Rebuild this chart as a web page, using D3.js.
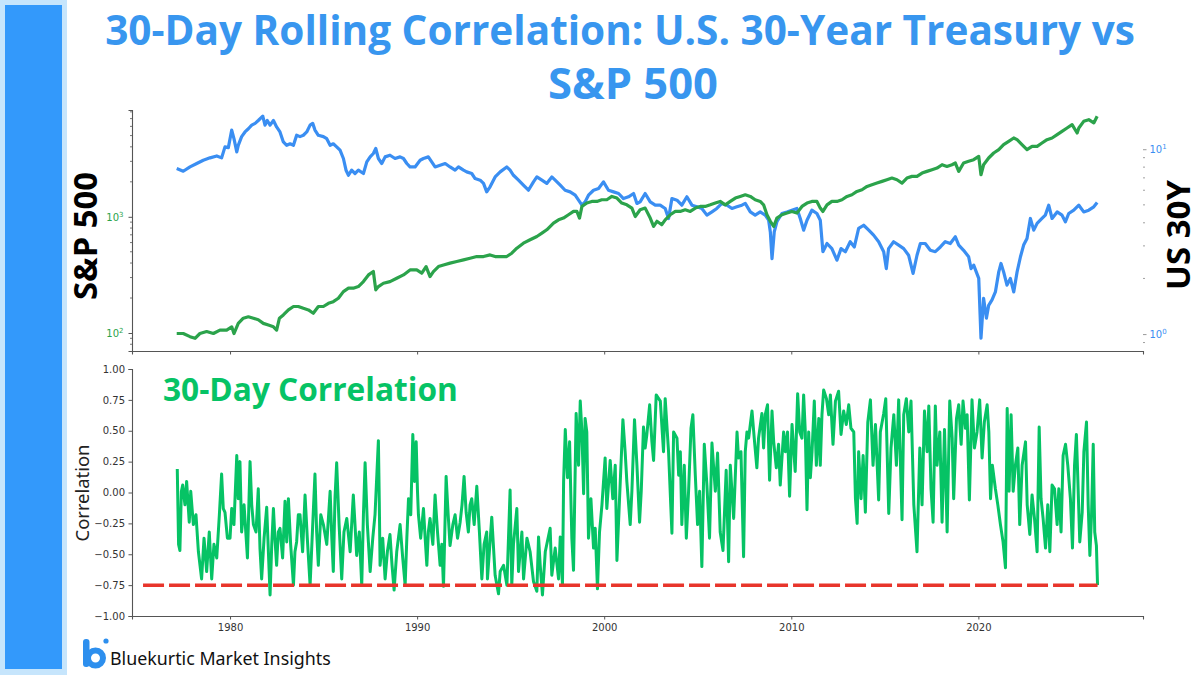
<!DOCTYPE html>
<html>
<head>
<meta charset="utf-8">
<script src="https://cdn.jsdelivr.net/npm/d3@7"></script>
<style>
  body { margin: 0; background: #fff; }
</style>
</head>
<body>
<div id="container"></div>
<script>
// ---- data ----
const yearTicks = [1980, 1990, 2000, 2010, 2020];
const corrTicks = [-1, -0.75, -0.5, -0.25, 0, 0.25, 0.5, 0.75, 1];
const spxMajorTicks = [100, 1000];
const spxMinorTicks = [80, 90, 200, 300, 400, 500, 600, 700, 800, 900, 2000, 3000, 4000, 5000, 6000, 7000, 8000];
const yieldMajorTicks = [1, 10];
const yieldMinorTicks = [0.9, 2, 3, 4, 5, 6, 7, 8, 9];
const corrThreshold = -0.75;
const thresholdSpan = [1975.35, 2026.37];

// S&P 500 level, [decimal year, index]
const spx = [[1977.15,99],[1977.50,99],[1977.86,93],[1978.13,90],[1978.39,99],[1978.75,103],[1979.11,99],[1979.46,106],[1979.82,106],[1980.09,113],[1980.21,99],[1980.44,121],[1980.71,134],[1980.98,138],[1981.25,134],[1981.51,130],[1981.78,121],[1982.05,117],[1982.32,113],[1982.49,106],[1982.64,134],[1982.85,143],[1983.12,158],[1983.39,169],[1983.65,169],[1983.92,163],[1984.19,158],[1984.45,148],[1984.72,169],[1984.99,169],[1985.26,180],[1985.52,186],[1985.79,199],[1986.06,227],[1986.33,243],[1986.59,243],[1986.86,251],[1987.13,277],[1987.40,316],[1987.66,338],[1987.79,235],[1987.93,251],[1988.20,268],[1988.55,277],[1988.91,296],[1989.27,316],[1989.62,349],[1989.98,349],[1990.25,327],[1990.48,373],[1990.69,306],[1990.87,338],[1991.14,373],[1991.41,385],[1991.76,399],[1992.12,412],[1992.48,426],[1992.83,440],[1993.19,455],[1993.55,455],[1993.90,470],[1994.17,455],[1994.44,455],[1994.79,455],[1995.06,486],[1995.33,537],[1995.68,593],[1996.04,634],[1996.40,677],[1996.67,723],[1996.93,773],[1997.29,882],[1997.56,942],[1997.82,975],[1998.09,1041],[1998.36,1112],[1998.54,1112],[1998.68,975],[1998.81,1228],[1999.07,1313],[1999.34,1356],[1999.61,1356],[1999.87,1402],[2000.14,1402],[2000.41,1497],[2000.68,1449],[2000.94,1313],[2001.21,1268],[2001.48,1188],[2001.66,1006],[2001.92,1149],
  [2002.19,1188],[2002.46,975],[2002.64,826],[2002.82,915],[2003.08,855],[2003.26,942],[2003.53,1041],[2003.80,1112],[2004.06,1112],[2004.33,1149],[2004.60,1112],[2004.87,1188],[2005.13,1228],[2005.40,1228],[2005.67,1268],[2005.94,1313],[2006.20,1356],[2006.47,1268],[2006.74,1356],[2007.01,1449],[2007.27,1497],[2007.54,1548],[2007.81,1497],[2008.07,1402],[2008.34,1356],[2008.52,1268],[2008.70,1041],[2008.88,915],[2009.06,826],[2009.23,975],[2009.50,1041],[2009.77,1076],[2010.03,1112],[2010.30,1076],[2010.57,1228],[2010.84,1313],[2011.10,1356],[2011.37,1356],[2011.55,1188],[2011.69,1112],[2011.91,1268],[2012.17,1356],[2012.44,1356],[2012.71,1402],[2012.98,1497],[2013.24,1548],[2013.51,1653],[2013.78,1709],[2014.05,1825],[2014.31,1888],[2014.58,1951],[2014.85,2017],[2015.11,2085],[2015.38,2155],[2015.65,2085],[2015.92,1951],[2016.18,2155],[2016.45,2227],[2016.72,2227],[2016.99,2378],[2017.25,2460],[2017.52,2543],[2017.79,2628],[2018.06,2806],[2018.32,2714],[2018.59,2806],[2018.77,2902],[2018.95,2460],[2019.21,2902],[2019.48,3000],[2019.75,3100],[2020.02,3311],[2020.14,2301],[2020.28,2806],[2020.55,3206],[2020.82,3540],[2021.09,3783],[2021.35,4180],[2021.62,4461],[2021.89,4767],[2022.07,4612],[2022.33,4180],[2022.60,3783],[2022.87,4039],[2023.14,4039],[2023.40,4315],[2023.67,4612],[2023.94,4767],[2024.21,5093],[2024.47,5437],[2024.74,5811],[2025.01,6206],[2025.28,5263],[2025.37,5811],[2025.63,6631],[2025.90,6855],[2026.17,6424],[2026.35,7325]];

// US 30Y yield in %, [decimal year, yield]
const us30y = [[1977.15,7.86],[1977.50,7.60],[1977.86,8.02],[1978.22,8.37],[1978.57,8.72],[1978.93,8.98],[1979.29,9.20],[1979.55,8.98],[1979.73,10.3],[1979.91,10.2],[1980.09,12.7],[1980.21,11.4],[1980.36,9.67],[1980.44,10.5],[1980.62,11.7],[1980.80,12.4],[1980.98,12.9],[1981.16,13.5],[1981.34,13.8],[1981.51,14.3],[1981.75,15.1],[1981.87,13.5],[1981.99,14.3],[1982.14,13.5],[1982.32,14.3],[1982.49,13.2],[1982.67,12.4],[1982.85,10.95],[1983.03,10.5],[1983.21,10.7],[1983.39,10.5],[1983.56,11.9],[1983.74,11.7],[1983.92,11.9],[1984.10,12.4],[1984.28,13.5],[1984.42,13.8],[1984.54,12.7],[1984.72,11.9],[1984.99,11.7],[1985.17,11.4],[1985.35,10.5],[1985.52,10.7],[1985.70,10.3],[1985.88,9.88],[1986.06,8.91],[1986.20,7.70],[1986.33,7.23],[1986.50,7.70],[1986.68,7.39],[1986.86,7.70],[1987.13,7.39],[1987.31,8.54],[1987.49,9.09],[1987.66,9.48],[1987.79,10.09],[1987.93,8.91],[1988.11,8.37],[1988.29,9.09],[1988.55,9.28],[1988.82,8.91],[1989.09,9.09],[1989.27,8.91],[1989.45,8.37],[1989.62,8.02],[1989.89,8.02],[1990.16,8.72],[1990.34,8.91],[1990.60,9.09],[1990.78,8.54],[1990.96,8.02],[1991.23,8.19],[1991.50,8.37],[1991.76,8.02],[1992.03,7.70],[1992.21,8.02],[1992.48,7.70],[1992.65,7.54],[1992.92,7.39],[1993.10,6.94],[1993.37,6.80],[1993.55,6.53],[1993.72,5.88],[1993.90,6.26],[1994.17,7.08],[1994.44,7.54],[1994.79,8.02],[1994.97,7.70],[1995.15,7.23],[1995.42,6.80],[1995.68,6.39],[1995.95,6.00],[1996.22,6.66],[1996.40,7.08],[1996.67,6.80],[1996.93,6.53],[1997.20,7.08],[1997.38,6.80],[1997.65,6.39],[1997.91,6.00],[1998.18,5.88],[1998.45,5.64],[1998.63,5.30],[1998.81,4.98],[1998.98,5.19],[1999.16,5.64],[1999.43,6.00],[1999.70,6.13],[1999.96,6.66],[2000.23,6.00],[2000.50,5.88],[2000.77,5.76],[2001.03,5.41],[2001.30,5.53],[2001.57,5.76],[2001.75,5.09],[2001.92,5.19],
  [2002.19,5.76],[2002.46,5.19],[2002.73,4.98],[2002.99,4.98],[2003.26,4.78],[2003.44,4.22],[2003.62,5.41],[2003.89,5.30],[2004.15,4.98],[2004.42,5.53],[2004.69,4.98],[2004.96,4.88],[2005.22,4.78],[2005.49,4.40],[2005.76,4.58],[2006.02,4.78],[2006.29,5.09],[2006.56,4.98],[2006.83,4.78],[2007.09,4.88],[2007.36,4.98],[2007.54,5.09],[2007.81,4.58],[2008.07,4.40],[2008.34,4.58],[2008.61,4.40],[2008.79,4.13],[2008.88,3.57],[2008.97,2.56],[2009.09,3.57],[2009.23,4.05],[2009.50,4.49],[2009.77,4.58],[2010.03,4.68],[2010.30,4.78],[2010.48,4.22],[2010.66,3.65],[2010.84,4.13],[2011.10,4.68],[2011.37,4.49],[2011.55,4.13],[2011.69,2.79],[2011.91,3.09],[2012.17,2.90],[2012.44,2.51],[2012.66,2.90],[2012.89,2.79],[2013.15,3.16],[2013.37,2.96],[2013.60,3.73],[2013.87,3.88],[2014.14,3.65],[2014.40,3.43],[2014.67,3.16],[2014.94,2.79],[2015.08,2.26],[2015.20,2.90],[2015.47,3.16],[2015.74,3.03],[2016.01,2.90],[2016.27,2.67],[2016.51,2.13],[2016.72,2.67],[2016.90,3.09],[2017.16,3.09],[2017.43,2.84],[2017.70,2.79],[2017.97,2.96],[2018.23,3.16],[2018.50,3.09],[2018.77,3.36],[2018.95,3.03],[2019.21,2.84],[2019.48,2.62],[2019.61,2.26],[2019.75,2.36],[2020.02,2.00],[2020.14,0.95],[2020.28,1.56],[2020.43,1.22],[2020.55,1.43],[2020.73,1.53],[2020.91,1.69],[2021.09,2.17],[2021.21,2.41],[2021.35,2.17],[2021.53,1.84],[2021.71,2.00],[2021.89,1.69],[2022.07,2.17],[2022.25,2.62],[2022.42,3.03],[2022.60,3.29],[2022.78,4.22],[2022.96,3.65],[2023.14,3.97],[2023.40,4.22],[2023.58,4.40],[2023.76,4.98],[2023.94,4.22],[2024.21,4.58],[2024.47,4.40],[2024.65,4.05],[2024.83,4.49],[2025.10,4.68],[2025.37,4.98],[2025.63,4.58],[2025.90,4.68],[2026.17,4.88],[2026.35,5.15]];

// 30-day rolling correlation, [decimal year, corr]
const corr = [[1977.18,0.19],[1977.25,-0.42],[1977.32,-0.47],[1977.40,0.01],[1977.47,0.06],[1977.59,-0.10],[1977.68,0.09],[1977.82,-0.24],[1977.90,0.01],[1978.04,-0.26],[1978.18,-0.18],[1978.31,-0.48],[1978.48,-0.70],[1978.61,-0.37],[1978.75,-0.64],[1978.89,-0.32],[1979.02,-0.70],[1979.14,-0.42],[1979.29,-0.53],[1979.43,-0.18],[1979.55,0.15],[1979.64,-0.13],[1979.73,-0.16],[1979.86,-0.37],[1980.00,-0.37],[1980.09,-0.13],[1980.21,-0.26],[1980.36,0.30],[1980.44,-0.05],[1980.53,0.25],[1980.62,-0.32],[1980.75,-0.10],[1980.93,-0.53],[1981.07,0.25],[1981.16,-0.10],[1981.25,-0.26],[1981.39,-0.32],[1981.51,0.03],[1981.60,-0.45],[1981.69,-0.70],[1981.82,-0.37],[1981.96,-0.12],[1982.05,-0.48],[1982.14,-0.83],[1982.23,-0.42],[1982.32,-0.13],[1982.40,-0.37],[1982.49,-0.59],[1982.58,-0.32],[1982.67,-0.29],[1982.81,-0.53],[1982.94,-0.07],[1983.03,-0.40],[1983.12,-0.05],[1983.24,-0.42],[1983.39,-0.75],[1983.47,-0.48],[1983.56,-0.40],[1983.65,-0.18],[1983.74,-0.18],[1983.88,-0.48],[1984.01,-0.02],[1984.13,-0.37],[1984.28,-0.75],[1984.42,-0.26],[1984.54,0.15],[1984.63,-0.32],[1984.72,-0.59],[1984.85,-0.18],[1984.99,-0.26],[1985.17,-0.42],[1985.35,0.01],[1985.44,-0.37],[1985.52,-0.64],[1985.61,-0.05],[1985.70,0.24],[1985.83,-0.26],[1985.97,-0.70],[1986.09,-0.32],[1986.24,-0.21],[1986.42,-0.48],[1986.59,-0.02],[1986.68,-0.26],[1986.77,-0.51],[1986.91,-0.32],[1987.04,-0.75],[1987.13,-0.18],[1987.22,0.24],[1987.34,-0.26],[1987.49,-0.64],[1987.63,-0.37],[1987.75,-0.18],[1987.93,0.42],[1987.98,-0.10],[1988.02,-0.59],[1988.16,-0.37],[1988.29,-0.70],[1988.41,-0.48],[1988.55,-0.34],[1988.66,-0.59],[1988.77,-0.79],[1988.91,-0.48],[1989.09,-0.26],[1989.23,-0.53],[1989.36,-0.75],[1989.45,-0.37],[1989.54,-0.05],[1989.66,-0.18],[1989.77,0.47],[1989.86,0.09],[1989.95,0.41],[1990.02,0.01],[1990.07,-0.18],[1990.19,-0.37],[1990.34,-0.13],[1990.43,-0.37],[1990.52,-0.59],[1990.60,-0.32],[1990.69,-0.21],[1990.84,-0.42],[1990.96,-0.02],[1991.09,-0.32],[1991.23,-0.59],[1991.32,-0.42],[1991.41,-0.76],[1991.48,-0.32],[1991.55,0.13],[1991.66,-0.18],[1991.76,-0.43],[1991.91,-0.26],[1992.03,-0.18],[1992.16,-0.37],[1992.30,-0.24],[1992.40,-0.10],[1992.51,0.13],[1992.62,-0.16],[1992.74,-0.32],[1992.83,-0.10],[1992.92,-0.05],[1993.05,-0.26],[1993.19,0.05],[1993.33,-0.32],[1993.46,-0.70],[1993.58,-0.42],[1993.72,-0.32],
  [1993.76,-0.70],[1993.99,-0.20],[1994.17,-0.67],[1994.35,-0.82],[1994.44,-0.64],[1994.62,-0.59],[1994.80,-0.75],[1994.97,0.02],[1995.06,-0.75],[1995.15,-0.42],[1995.33,-0.13],[1995.42,-0.64],[1995.60,-0.32],[1995.69,-0.70],[1995.87,-0.37],[1996.04,-0.48],[1996.22,-0.72],[1996.40,-0.80],[1996.49,-0.36],[1996.58,-0.59],[1996.70,-0.83],[1996.85,-0.48],[1997.11,-0.29],[1997.20,-0.67],[1997.38,-0.45],[1997.56,-0.70],[1997.65,-0.36],[1997.77,-0.75],[1997.83,0.09],[1997.92,0.51],[1998.04,0.12],[1998.15,0.41],[1998.27,-0.37],[1998.36,-0.63],[1998.50,0.64],[1998.63,0.22],[1998.72,0.74],[1998.81,0.49],[1998.90,-0.01],[1998.98,0.60],[1999.07,0.49],[1999.16,-0.37],[1999.29,-0.05],[1999.43,-0.45],[1999.52,-0.29],[1999.64,-0.78],[1999.75,-0.32],[1999.88,-0.10],[2000.05,0.28],[2000.14,-0.13],[2000.32,0.26],[2000.46,-0.05],[2000.59,0.22],[2000.68,-0.55],[2000.82,-0.05],[2001.00,0.59],[2001.12,0.33],[2001.21,0.09],[2001.39,-0.26],[2001.48,0.01],[2001.62,0.59],[2001.75,0.22],[2001.89,-0.24],[2001.98,0.01],[2002.10,0.53],[2002.19,0.36],[2002.28,0.47],[2002.43,0.71],[2002.55,0.41],[2002.64,0.26],[2002.78,0.79],[2003.00,0.74],[2003.17,0.33],[2003.26,0.76],[2003.44,0.33],[2003.62,-0.33],[2003.71,0.49],[2003.89,0.44],[2003.98,0.14],[2004.07,0.33],[2004.15,-0.26],[2004.28,0.22],[2004.39,-0.37],[2004.51,0.01],[2004.64,0.52],[2004.74,0.63],[2004.87,0.14],[2004.99,-0.26],[2005.10,0.01],[2005.22,-0.60],[2005.35,0.39],[2005.49,0.06],[2005.63,-0.37],[2005.76,0.40],[2005.94,0.01],[2006.06,0.32],[2006.20,-0.32],[2006.35,-0.47],[2006.52,0.18],[2006.65,-0.56],[2006.74,0.22],[2006.92,-0.21],[2007.10,0.49],[2007.18,0.28],[2007.31,0.33],[2007.45,-0.52],[2007.54,0.33],[2007.63,0.49],[2007.72,0.44],[2007.90,0.66],[2008.02,0.44],[2008.16,0.20],[2008.25,0.44],[2008.43,0.64],[2008.52,0.36],[2008.61,0.63],[2008.73,0.71],[2008.84,0.10],[2008.97,0.66],[2009.06,0.41],[2009.20,0.20],[2009.32,0.39],[2009.41,0.06],[2009.59,0.49],[2009.68,0.33],[2009.80,0.49],[2009.91,-0.03],[2010.04,0.55],[2010.21,0.17],[2010.34,0.80],[2010.45,0.49],
  [2010.57,0.44],[2010.66,0.79],[2010.75,0.49],[2010.84,-0.14],[2010.93,0.49],[2011.02,0.12],[2011.11,0.33],[2011.23,0.74],[2011.34,0.22],[2011.47,0.60],[2011.55,0.22],[2011.64,0.63],[2011.73,0.83],[2011.88,0.76],[2012.00,0.63],[2012.09,0.79],[2012.23,0.39],[2012.36,0.74],[2012.53,0.82],[2012.66,0.47],[2012.80,0.66],[2012.94,0.55],[2013.07,0.71],[2013.19,0.52],[2013.34,0.49],[2013.43,-0.05],[2013.52,-0.25],[2013.60,0.33],[2013.73,-0.05],[2013.84,0.30],[2013.96,-0.16],[2014.09,0.57],[2014.23,0.75],[2014.37,0.22],[2014.50,0.55],[2014.67,-0.06],[2014.76,0.49],[2014.94,0.64],[2015.05,0.76],[2015.21,-0.17],[2015.33,0.36],[2015.48,0.63],[2015.62,0.22],[2015.74,0.75],[2015.92,-0.22],[2016.01,0.63],[2016.15,0.76],[2016.28,0.49],[2016.40,0.74],[2016.55,-0.10],[2016.72,-0.48],[2016.87,0.36],[2016.99,-0.10],[2017.12,0.66],[2017.26,0.33],[2017.35,0.70],[2017.47,0.03],[2017.58,-0.24],[2017.70,0.70],[2017.79,0.22],[2017.94,0.49],[2018.06,-0.24],[2018.19,0.51],[2018.33,-0.32],[2018.47,0.74],[2018.60,0.44],[2018.68,-0.05],[2018.83,0.60],[2018.95,0.71],[2019.08,0.39],[2019.18,0.74],[2019.31,0.52],[2019.40,0.63],[2019.52,-0.06],[2019.66,0.75],[2019.79,0.36],[2019.93,0.49],[2020.07,0.75],[2020.20,0.28],[2020.32,0.57],[2020.47,0.71],[2020.56,0.49],[2020.65,-0.05],[2020.75,0.22],[2020.91,0.03],[2021.04,-0.10],[2021.18,-0.26],[2021.32,-0.40],[2021.45,-0.61],[2021.54,0.68],[2021.64,0.01],[2021.75,0.63],[2021.86,0.01],[2021.98,0.22],[2022.11,0.36],[2022.21,-0.26],[2022.34,0.22],[2022.52,0.41],[2022.61,-0.10],[2022.75,-0.34],[2022.87,-0.02],[2023.00,-0.21],[2023.14,-0.48],[2023.25,0.53],[2023.35,-0.05],[2023.46,-0.21],[2023.59,-0.45],[2023.71,-0.10],[2023.82,-0.48],[2023.94,0.06],[2024.07,0.03],[2024.21,-0.26],[2024.30,0.03],[2024.42,-0.32],[2024.53,0.30],[2024.66,0.39],[2024.78,0.22],[2024.92,-0.05],[2025.03,-0.45],[2025.14,0.22],[2025.24,0.47],[2025.31,0.14],[2025.42,-0.40],[2025.55,-0.16],[2025.64,0.33],[2025.78,0.57],[2025.87,-0.10],[2025.96,-0.51],[2026.05,-0.18],[2026.14,0.39],[2026.22,-0.32],[2026.31,-0.43],[2026.37,-0.75]];

// ---- colours ----
const BLUE = '#3a8ef2';
const SPX_GREEN = '#2ba34b';
const CORR_GREEN = '#06c365';
const TITLE_BLUE = '#3896ef';
const RED = '#e8352b';
const AXIS = '#555';

const W = 1200, H = 675;
const svg = d3.select('#container').append('svg')
    .attr('width', W).attr('height', H)
    .style('display', 'block');

// shrink/grow a text so that it spans the given width
function fit(sel, width) {
  const fs = parseFloat(sel.style('font-size'));
  const len = sel.node().getComputedTextLength();
  sel.style('font-size', (fs * width / len) + 'px');
  return sel;
}

// side banner
svg.append('rect').attr('x', 0).attr('y', 0).attr('width', 67).attr('height', H).attr('fill', '#c6e5fc');
svg.append('rect').attr('x', 5).attr('y', 5).attr('width', 57).attr('height', 664).attr('fill', '#3399fb');

// title
const titleFont = '"Open Sans", "Noto Sans", sans-serif';
fit(svg.append('text').attr('x', 620).attr('y', 45).attr('text-anchor', 'middle')
    .style('font-family', titleFont).style('font-weight', 700).style('font-size', '40px')
    .attr('fill', TITLE_BLUE).text('30-Day Rolling Correlation: U.S. 30-Year Treasury vs'), 1030);
fit(svg.append('text').attr('x', 633).attr('y', 99).attr('text-anchor', 'middle')
    .style('font-family', titleFont).style('font-weight', 700).style('font-size', '40px')
    .attr('fill', TITLE_BLUE).text('S&P 500'), 170);

// ---- scales ----
const xYear = d3.scaleLinear().domain([1974.76, 2028.8]).range([132, 1143]);
const ySpx = d3.scaleLog().domain([70, 8300]).range([351, 110]);
const yYield = d3.scaleLog().domain([0.81, 16.3]).range([351, 110]);
const yCorr = d3.scaleLinear().domain([-1, 1]).range([616, 369]);

function styleAxis(g, color) {
  g.select('.domain').attr('stroke', AXIS).attr('stroke-width', 1.1);
  g.selectAll('.tick line').attr('stroke', AXIS);
  g.selectAll('.tick text').attr('fill', color || '#333')
    .style('font-family', '"DejaVu Sans", sans-serif').style('font-size', '10px');
}

// superscript powers of ten on log axes
function powerLabels(g) {
  g.selectAll('.tick text').each(function(d) {
    const t = d3.select(this);
    t.text('10');
    t.append('tspan').attr('dy', -4).style('font-size', '7px').text(Math.round(Math.log10(d)));
  });
}

// ---- top panel ----
const topPanel = svg.append('g');

const gxTop = topPanel.append('g').attr('transform', 'translate(0,351)')
    .call(d3.axisBottom(xYear).tickValues(yearTicks).tickSize(3.5).tickFormat(''));
styleAxis(gxTop);

const gSpx = topPanel.append('g').attr('transform', 'translate(132,0)')
    .call(d3.axisLeft(ySpx).tickValues(spxMajorTicks).tickSize(3.5).tickPadding(5).tickFormat(d => d));
styleAxis(gSpx, SPX_GREEN);
powerLabels(gSpx);
gSpx.append('g').selectAll('line').data(spxMinorTicks).enter().append('line')
    .attr('x1', 0).attr('x2', -2).attr('y1', d => ySpx(d)).attr('y2', d => ySpx(d))
    .attr('stroke', AXIS).attr('stroke-width', 0.8);

const gYield = topPanel.append('g').attr('transform', 'translate(1143,0)')
    .call(d3.axisRight(yYield).tickValues(yieldMajorTicks).tickSize(3.5).tickPadding(3).tickFormat(d => d));
styleAxis(gYield, BLUE);
gYield.select('.domain').remove();
gYield.selectAll('.tick line').attr('stroke', '#999');
powerLabels(gYield);
gYield.append('g').selectAll('line').data(yieldMinorTicks).enter().append('line')
    .attr('x1', 0).attr('x2', 2).attr('y1', d => yYield(d)).attr('y2', d => yYield(d))
    .attr('stroke', '#888').attr('stroke-width', 0.8);

topPanel.append('path').datum(us30y)
    .attr('fill', 'none').attr('stroke', BLUE).attr('stroke-width', 3.2)
    .attr('stroke-linejoin', 'round')
    .attr('d', d3.line().x(d => xYear(d[0])).y(d => yYield(d[1])));

topPanel.append('path').datum(spx)
    .attr('fill', 'none').attr('stroke', SPX_GREEN).attr('stroke-width', 3.2)
    .attr('stroke-linejoin', 'round')
    .attr('d', d3.line().x(d => xYear(d[0])).y(d => ySpx(d[1])));

fit(svg.append('text').attr('transform', 'translate(97,236) rotate(-90)').attr('text-anchor', 'middle')
    .style('font-family', titleFont).style('font-weight', 700).style('font-size', '30px')
    .attr('fill', '#000').text('S&P 500'), 128);
fit(svg.append('text').attr('transform', 'translate(1190,235) rotate(-90)').attr('text-anchor', 'middle')
    .style('font-family', titleFont).style('font-weight', 700).style('font-size', '30px')
    .attr('fill', '#000').text('US 30Y'), 110);

// ---- bottom panel ----
const botPanel = svg.append('g');

const gxBot = botPanel.append('g').attr('transform', 'translate(0,616)')
    .call(d3.axisBottom(xYear).tickValues(yearTicks).tickSize(3.5).tickPadding(4).tickFormat(d3.format('d')));
styleAxis(gxBot);

const gyBot = botPanel.append('g').attr('transform', 'translate(132,0)')
    .call(d3.axisLeft(yCorr).tickValues(corrTicks).tickSize(3.5).tickPadding(3.5)
      .tickFormat(d => d3.format('.2f')(d).replace('-', '\u2212')));
styleAxis(gyBot);

fit(botPanel.append('text').attr('transform', 'translate(89,493) rotate(-90)').attr('text-anchor', 'middle')
    .style('font-family', '"Noto Sans", sans-serif').style('font-size', '17px')
    .attr('fill', '#222').text('Correlation'), 97);

botPanel.append('path').datum(corr)
    .attr('fill', 'none').attr('stroke', CORR_GREEN).attr('stroke-width', 3)
    .attr('stroke-linejoin', 'round')
    .attr('d', d3.line().x(d => xYear(d[0])).y(d => yCorr(d[1])));

botPanel.append('line')
    .attr('x1', xYear(thresholdSpan[0])).attr('x2', xYear(thresholdSpan[1]))
    .attr('y1', yCorr(corrThreshold)).attr('y2', yCorr(corrThreshold))
    .attr('stroke', RED).attr('stroke-width', 3.5).attr('stroke-dasharray', '21,5');

fit(botPanel.append('text').attr('x', 163).attr('y', 401)
    .style('font-family', titleFont).style('font-weight', 700).style('font-size', '28px')
    .attr('fill', CORR_GREEN).text('30-Day Correlation'), 295);

// ---- brand footer ----
const logo = svg.append('g');
logo.append('rect').attr('x', 83).attr('y', 639).attr('width', 6.5).attr('height', 28).attr('rx', 3).attr('fill', '#2d8fee');
logo.append('circle').attr('cx', 95.5).attr('cy', 658).attr('r', 7.5)
    .attr('fill', 'none').attr('stroke', '#2d8fee').attr('stroke-width', 6);
logo.append('circle').attr('cx', 106).attr('cy', 641).attr('r', 2.6).attr('fill', '#2d8fee');

fit(svg.append('text').attr('x', 110).attr('y', 665)
    .style('font-family', '"Noto Sans", sans-serif').style('font-size', '19px')
    .attr('fill', '#111').text('Bluekurtic Market Insights'), 221);
</script>
</body>
</html>
